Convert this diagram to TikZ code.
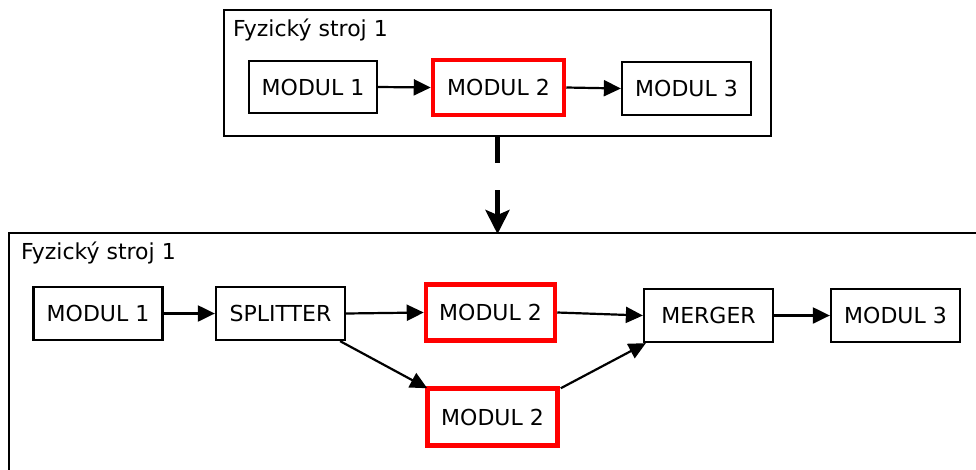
\documentclass[tikz,border=0pt]{standalone}
\usepackage{fontspec}
\setmainfont{DejaVu Sans}
\usetikzlibrary{arrows.meta}
\tikzset{
  modbox/.style={draw=black, line width=2.3pt, inner sep=0pt,
    minimum width=129pt, minimum height=53pt},
  hotbox/.style={draw=red, line width=4.5pt, inner sep=0pt,
    minimum width=129pt, minimum height=56pt},
  frame/.style={draw=black, line width=2.3pt, inner sep=0pt},
  flow/.style={line width=2.2pt, -{Triangle[length=17pt,width=16pt]}},
  deploy/.style={line width=4.8pt, dash pattern=on 26pt off 27pt,
    -{Stealth[length=24pt,width=24pt,inset=5pt]}},
  caption/.style={anchor=base west, inner sep=0pt}
}
\begin{document}
\begin{tikzpicture}[x=1pt,y=-1pt,font=\fontsize{22}{26}\selectfont]
\useasboundingbox (0,0) rectangle (976,469);
\clip (0,0) rectangle (976,469);

% upper machine
\node (tbox) [frame, minimum width=547pt, minimum height=126pt] at (497.5,73) {};
\node (tlabel) [caption] at (233,36) {Fyzický stroj 1};
\node (tm1) [modbox, minimum width=128pt, minimum height=52pt] at (313,87) {MODUL 1};
\node (tm2) [hotbox, minimum width=131pt, minimum height=55pt] at (498.5,87.5) {MODUL 2};
\node (tm3) [modbox] at (686.5,88.5) {MODUL 3};
\draw[flow] (tm1.east) -- (tm2.west);
\draw[flow] (tm2.east) -- (tm3.west);

% lower machine (extends past the right and bottom edges)
\node (bbox) [frame, anchor=north west, minimum width=1000pt, minimum height=300pt] at (8,232) {};
\node (blabel) [caption] at (21,259) {Fyzický stroj 1};
\node (bm1) [modbox] at (98,313.5) {MODUL 1};
\node (split) [modbox] at (280.5,313.5) {SPLITTER};
\node (bm2a) [hotbox] at (490.5,312.5) {MODUL 2};
\node (bm2b) [hotbox, minimum width=130pt, minimum height=57pt] at (492.5,417) {MODUL 2};
\node (merge) [modbox] at (708.5,315.5) {MERGER};
\node (bm3) [modbox] at (895.5,315.5) {MODUL 3};

\draw[flow] (bm1.east) -- (split.west);
\draw[flow] (split.east) -- (bm2a.west);
\draw[flow] ([xshift=-6pt]split.south east) -- ([xshift=2pt,yshift=-2pt]bm2b.north west);
\draw[flow] (bm2a.east) -- (merge.west);
\draw[flow] ([xshift=1pt,yshift=-2pt]bm2b.north east) -- ([xshift=3pt]merge.south west);
\draw[flow] (merge.east) -- (bm3.west);

% deployment arrow between the machines
\draw[deploy] (tbox.south) -- ([yshift=-2pt]bbox.north west -| tbox.south);
\end{tikzpicture}
\end{document}
